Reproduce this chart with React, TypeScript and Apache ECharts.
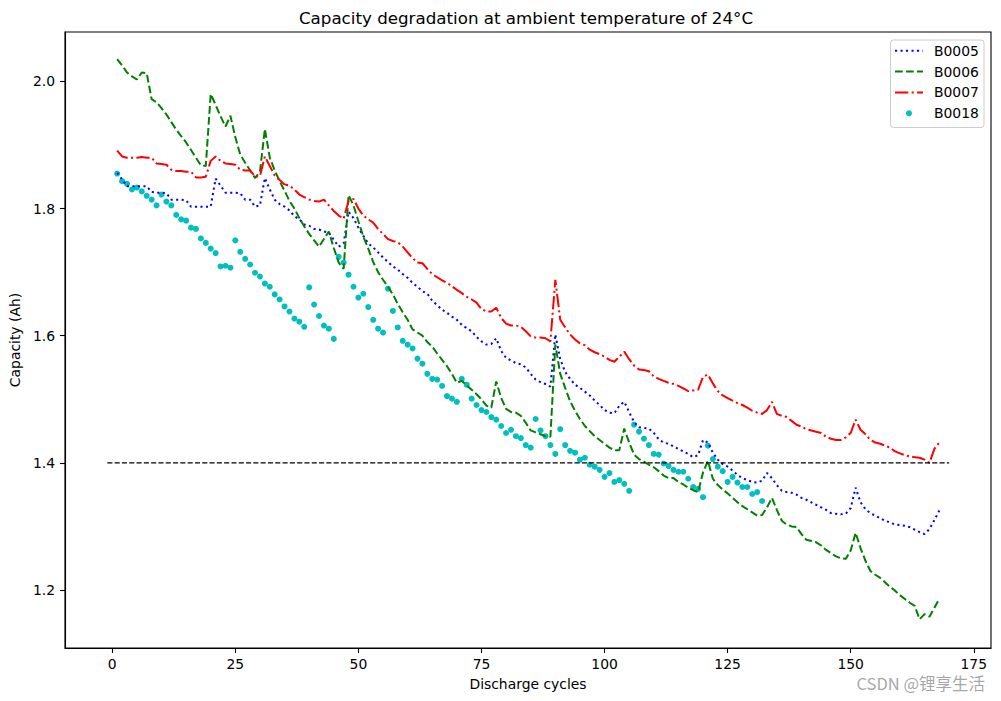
import React, { useEffect, useRef } from "react";
import * as echarts from "echarts";

const TITLE = "Capacity degradation at ambient temperature of 24°C";
const X_NAME = "Discharge cycles";
const Y_NAME = "Capacity (Ah)";
const WATERMARK = "CSDN @锂享生活";

const NAMES = ["B0005", "B0006", "B0007", "B0018"];
const COLORS = ["#0000ff", "#008000", "#ff0000", "#00bfbf"];

const B0005 = [
  1.856, 1.846, 1.835, 1.835, 1.835, 1.835, 1.835, 1.826, 1.825, 1.825,
  1.824, 1.814, 1.814, 1.814, 1.813, 1.803, 1.803, 1.803, 1.803, 1.803,
  1.847, 1.836, 1.825, 1.825, 1.825, 1.824, 1.814, 1.814, 1.803, 1.805,
  1.848, 1.830, 1.814, 1.807, 1.803, 1.797, 1.788, 1.783, 1.775, 1.773,
  1.768, 1.767, 1.764, 1.762, 1.751, 1.740, 1.745, 1.795, 1.785, 1.770,
  1.757, 1.745, 1.739, 1.731, 1.723, 1.716, 1.709, 1.704, 1.697, 1.691,
  1.683, 1.677, 1.670, 1.666, 1.655, 1.648, 1.641, 1.636, 1.630, 1.625,
  1.617, 1.612, 1.607, 1.598, 1.591, 1.586, 1.587, 1.596, 1.576, 1.565,
  1.561, 1.557, 1.555, 1.550, 1.540, 1.531, 1.527, 1.524, 1.520, 1.602,
  1.563, 1.543, 1.532, 1.523, 1.518, 1.512, 1.506, 1.498, 1.491, 1.483,
  1.479, 1.478, 1.490, 1.496, 1.480, 1.464, 1.456, 1.455, 1.454, 1.447,
  1.437, 1.432, 1.430, 1.426, 1.422, 1.418, 1.414, 1.409, 1.412, 1.436,
  1.432, 1.416, 1.405, 1.398, 1.394, 1.388, 1.381, 1.376, 1.373, 1.370,
  1.369, 1.372, 1.384, 1.376, 1.365, 1.356, 1.354, 1.353, 1.350, 1.345,
  1.342, 1.338, 1.334, 1.330, 1.326, 1.321, 1.320, 1.319, 1.320, 1.329,
  1.361, 1.338, 1.327, 1.321, 1.317, 1.313, 1.309, 1.306, 1.303, 1.302,
  1.301, 1.299, 1.295, 1.291, 1.288, 1.296, 1.310, 1.325,
];

const B0006 = [
  2.035, 2.025, 2.014, 2.008, 2.003, 2.014, 2.013, 1.972, 1.967, 1.958,
  1.948, 1.936, 1.924, 1.914, 1.904, 1.892, 1.880, 1.868, 1.867, 1.980,
  1.963, 1.945, 1.929, 1.946, 1.912, 1.885, 1.872, 1.860, 1.848, 1.858,
  1.925, 1.880, 1.860, 1.843, 1.828, 1.812, 1.800, 1.785, 1.772, 1.760,
  1.750, 1.740, 1.752, 1.764, 1.738, 1.715, 1.705, 1.821, 1.805, 1.780,
  1.756, 1.737, 1.716, 1.700, 1.688, 1.677, 1.665, 1.650, 1.637, 1.625,
  1.610, 1.605, 1.600, 1.590, 1.583, 1.572, 1.562, 1.552, 1.540, 1.526,
  1.529, 1.522, 1.515, 1.508, 1.500, 1.490, 1.487, 1.528, 1.502, 1.485,
  1.480, 1.479, 1.474, 1.463, 1.451, 1.448, 1.445, 1.442, 1.441, 1.586,
  1.540, 1.518, 1.497, 1.482, 1.469, 1.458, 1.450, 1.442, 1.436, 1.430,
  1.424, 1.420, 1.420, 1.454, 1.432, 1.413, 1.406, 1.402, 1.397, 1.393,
  1.387, 1.380, 1.376, 1.376, 1.370, 1.366, 1.361, 1.357, 1.354, 1.385,
  1.403, 1.375, 1.365, 1.358, 1.352, 1.345, 1.338, 1.332, 1.327, 1.322,
  1.317, 1.318, 1.330, 1.345, 1.326, 1.309, 1.303, 1.300, 1.299, 1.288,
  1.279, 1.277, 1.275, 1.270, 1.263, 1.258, 1.253, 1.250, 1.249, 1.262,
  1.290, 1.266, 1.246, 1.230, 1.224, 1.219, 1.212, 1.205, 1.199, 1.192,
  1.186, 1.180, 1.175, 1.154, 1.162, 1.158, 1.172, 1.186,
];

const B0007 = [
  1.891, 1.882, 1.880, 1.880, 1.880, 1.881, 1.880, 1.880, 1.871, 1.870,
  1.869, 1.861, 1.859, 1.859, 1.858, 1.858, 1.849, 1.849, 1.850, 1.875,
  1.882, 1.875, 1.871, 1.870, 1.869, 1.861, 1.860, 1.860, 1.850, 1.851,
  1.882, 1.867, 1.852, 1.845, 1.838, 1.836, 1.830, 1.822, 1.818, 1.814,
  1.812, 1.811, 1.814, 1.805, 1.796, 1.789, 1.784, 1.812, 1.815, 1.800,
  1.789, 1.783, 1.778, 1.768, 1.760, 1.752, 1.749, 1.747, 1.740, 1.731,
  1.722, 1.715, 1.714, 1.705, 1.697, 1.692, 1.687, 1.683, 1.678, 1.672,
  1.667, 1.661, 1.657, 1.652, 1.642, 1.638, 1.638, 1.644, 1.628, 1.619,
  1.616, 1.616, 1.614, 1.607, 1.599, 1.597, 1.597, 1.596, 1.591, 1.688,
  1.625, 1.613, 1.602, 1.594, 1.588, 1.585, 1.578, 1.574, 1.571, 1.567,
  1.562, 1.559, 1.567, 1.575, 1.563, 1.553, 1.547, 1.546, 1.544, 1.536,
  1.532, 1.529, 1.526, 1.524, 1.521, 1.517, 1.513, 1.514, 1.515, 1.535,
  1.539, 1.525, 1.513, 1.506, 1.502, 1.498, 1.494, 1.491, 1.487, 1.482,
  1.479, 1.477, 1.483, 1.496, 1.477, 1.474, 1.472, 1.466, 1.460, 1.457,
  1.453, 1.451, 1.449, 1.447, 1.441, 1.438, 1.436, 1.436, 1.440, 1.447,
  1.468, 1.452, 1.445, 1.436, 1.432, 1.430, 1.427, 1.424, 1.418, 1.415,
  1.412, 1.410, 1.409, 1.408, 1.405, 1.400, 1.422, 1.432,
];

const B0018 = [
  1.855, 1.843, 1.839, 1.830, 1.833, 1.827, 1.820, 1.814, 1.805, 1.822,
  1.811, 1.805, 1.790, 1.783, 1.781, 1.770, 1.768, 1.753, 1.746, 1.737,
  1.730, 1.709, 1.710, 1.707, 1.750, 1.732, 1.721, 1.712, 1.699, 1.693,
  1.682, 1.677, 1.665, 1.657, 1.646, 1.638, 1.627, 1.622, 1.614, 1.676,
  1.649, 1.631, 1.616, 1.611, 1.595, 1.724, 1.715, 1.696, 1.677, 1.660,
  1.666, 1.645, 1.625, 1.611, 1.605, 1.674, 1.639, 1.613, 1.592, 1.586,
  1.580, 1.564, 1.556, 1.540, 1.532, 1.531, 1.521, 1.505, 1.501, 1.496,
  1.532, 1.523, 1.501, 1.491, 1.483, 1.480, 1.472, 1.468, 1.458, 1.447,
  1.452, 1.442, 1.439, 1.428, 1.424, 1.469, 1.451, 1.442, 1.428, 1.414,
  1.453, 1.428, 1.419, 1.416, 1.405, 1.408, 1.397, 1.394, 1.389, 1.378,
  1.384, 1.370, 1.373, 1.367, 1.356, 1.460, 1.449, 1.438, 1.428, 1.414,
  1.413, 1.399, 1.395, 1.389, 1.386, 1.386, 1.375, 1.362, 1.359, 1.346,
  1.427, 1.406, 1.394, 1.387, 1.370, 1.378, 1.369, 1.362, 1.362, 1.351,
  1.354, 1.340,
];

const THRESHOLD = 1.4;
const THRESHOLD_X = [-1, 170];
const X_TICKS = [0, 25, 50, 75, 100, 125, 150, 175];
const Y_TICKS = [1.2, 1.4, 1.6, 1.8, 2.0];

const FONT = "DejaVu Sans";

// matplotlib-like dash patterns (px) for linewidth ~2
const DOTTED = [2.1, 3.4];
const DASHED = [7.7, 3.3];
const DASHDOT = [13.3, 3.3, 2.1, 3.3];
const THRESH_DASH = [5.1, 2.2];

const toPts = (arr: number[]) => arr.map((v, i) => [i + 1, v]);

export default function App() {
  const ref = useRef<HTMLDivElement>(null);

  useEffect(() => {
    if (!ref.current) return;
    const chart = echarts.init(ref.current, null, { renderer: "svg" });

    const gridL = 61;
    const gridT = 32;
    const gridW = 930;
    const gridH = 616;

    const legendX = 890.5;
    const legendY = 40;
    const rowY = [50.7, 71.6, 92.4, 113.3];
    const dashes = [DOTTED, DASHED, DASHDOT];

    const legendEls: any[] = [
      {
        type: "rect",
        shape: { x: legendX, y: legendY, width: 93.5, height: 87.5, r: 3 },
        style: { fill: "rgba(255,255,255,0.8)", stroke: "#cccccc", lineWidth: 1 },
        z: 100,
      },
    ];
    NAMES.forEach((n, i) => {
      if (i < 3) {
        legendEls.push({
          type: "line",
          shape: { x1: 895, y1: rowY[i], x2: 923, y2: rowY[i] },
          style: { stroke: COLORS[i], lineWidth: 2, lineDash: dashes[i], lineCap: "butt" },
          z: 101,
        });
      } else {
        legendEls.push({
          type: "circle",
          shape: { cx: 909, cy: rowY[i], r: 3 },
          style: { fill: COLORS[i] },
          z: 101,
        });
      }
      legendEls.push({
        type: "text",
        x: 934,
        y: rowY[i],
        style: {
          text: n,
          fill: "#000",
          font: `13.9px "${FONT}"`,
          verticalAlign: "middle",
          align: "left",
        },
        z: 101,
      });
    });

    const option: any = {
      animation: false,
      backgroundColor: "#ffffff",
      title: {
        text: TITLE,
        left: gridL + gridW / 2,
        top: 9,
        padding: 0,
        textAlign: "center",
        textStyle: { fontFamily: FONT, fontSize: 16.7, fontWeight: "normal", color: "#000" },
      },
      grid: {
        left: gridL,
        top: gridT,
        width: gridW,
        height: gridH,
        show: true,
        borderColor: "#000",
        borderWidth: 1.1,
        backgroundColor: "transparent",
      },
      xAxis: {
        type: "value",
        min: -9.6,
        max: 178.5,
        name: X_NAME,
        nameLocation: "middle",
        nameGap: 29,
        nameTextStyle: { fontFamily: FONT, fontSize: 13.9, color: "#000" },
        axisLine: { show: true, onZero: false, lineStyle: { color: "#000", width: 1.1 } },
        axisTick: {
          show: true,
          length: 5,
          inside: false,
          customValues: X_TICKS,
          lineStyle: { color: "#000", width: 1.1 },
        },
        axisLabel: {
          show: true,
          customValues: X_TICKS,
          margin: 9,
          fontFamily: FONT,
          fontSize: 13.9,
          color: "#000",
          formatter: (v: number) => String(v),
        },
        splitLine: { show: false },
      },
      yAxis: {
        type: "value",
        min: 1.1088,
        max: 2.0777,
        name: Y_NAME,
        nameLocation: "middle",
        nameGap: 37,
        nameRotate: 90,
        nameTextStyle: { fontFamily: FONT, fontSize: 13.9, color: "#000" },
        axisLine: { show: true, onZero: false, lineStyle: { color: "#000", width: 1.1 } },
        axisTick: {
          show: true,
          length: 5,
          inside: false,
          customValues: Y_TICKS,
          lineStyle: { color: "#000", width: 1.1 },
        },
        axisLabel: {
          show: true,
          customValues: Y_TICKS,
          margin: 10,
          fontFamily: FONT,
          fontSize: 13.9,
          color: "#000",
          formatter: (v: number) => v.toFixed(1),
        },
        splitLine: { show: false },
      },
      series: [
        {
          name: NAMES[0],
          type: "line",
          data: toPts(B0005),
          symbol: "none",
          lineStyle: { color: COLORS[0], width: 2, type: DOTTED, cap: "butt" },
          itemStyle: { color: COLORS[0] },
        },
        {
          name: NAMES[1],
          type: "line",
          data: toPts(B0006),
          symbol: "none",
          lineStyle: { color: COLORS[1], width: 2, type: DASHED, cap: "butt" },
          itemStyle: { color: COLORS[1] },
        },
        {
          name: NAMES[2],
          type: "line",
          data: toPts(B0007),
          symbol: "none",
          lineStyle: { color: COLORS[2], width: 2, type: DASHDOT, cap: "butt" },
          itemStyle: { color: COLORS[2] },
        },
        {
          name: NAMES[3],
          type: "scatter",
          data: toPts(B0018),
          symbol: "circle",
          symbolSize: 6,
          itemStyle: { color: COLORS[3], opacity: 1 },
        },
        {
          name: "threshold",
          type: "line",
          data: THRESHOLD_X.map((x) => [x, THRESHOLD]),
          symbol: "none",
          lineStyle: { color: "#000", width: 1.4, type: THRESH_DASH },
          itemStyle: { color: "#000" },
        },
      ],
      graphic: [
        ...legendEls,
        {
          type: "text",
          x: 985,
          y: 683,
          style: {
            text: WATERMARK,
            fill: "rgba(150,150,150,0.85)",
            font: `16.5px "Noto Sans CJK SC"`,
            align: "right",
            verticalAlign: "middle",
          },
          z: 101,
        },
      ],
    };

    chart.setOption(option);
    return () => {
      chart.dispose();
    };
  }, []);

  return (
    <div
      ref={ref}
      style={{ position: "fixed", left: 0, top: 0, width: 1001, height: 701, background: "#fff" }}
    />
  );
}
